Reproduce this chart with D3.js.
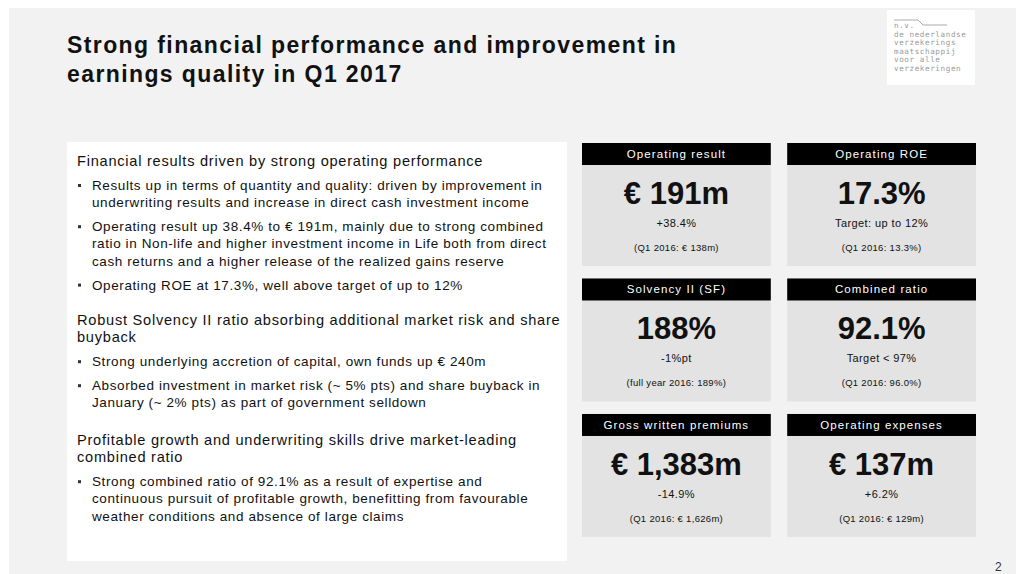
<!DOCTYPE html>
<html>
<head>
<meta charset="utf-8">
<script src="https://cdn.jsdelivr.net/npm/d3@7"></script>
<style>
  html, body { margin: 0; padding: 0; background: #fff; }
  svg text { font-family: "Liberation Sans", Arial, sans-serif; }
</style>
</head>
<body>
<svg id="slide" width="1016" height="574"></svg>
<script>
const TITLE_LINES = ['Strong financial performance and improvement in', 'earnings quality in Q1 2017']

const KPI_TITLES = ['Operating result', 'Operating ROE', 'Solvency II (SF)', 'Combined ratio', 'Gross written premiums', 'Operating expenses']
const KPI_VALUES = ['€ 191m', '17.3%', '188%', '92.1%', '€ 1,383m', '€ 137m']
const KPI_CHANGES = ['+38.4%', 'Target: up to 12%', '-1%pt', 'Target < 97%', '-14.9%', '+6.2%']
const KPI_PRIOR = ['(Q1 2016: € 138m)', '(Q1 2016: 13.3%)', '(full year 2016: 189%)', '(Q1 2016: 96.0%)', '(Q1 2016: € 1,626m)', '(Q1 2016: € 129m)']

const SECTION_HEADS = [
  ['Financial results driven by strong operating performance'],
  ['Robust Solvency II ratio absorbing additional market risk and share', 'buyback'],
  ['Profitable growth and underwriting skills drive market-leading', 'combined ratio']
]
const SECTION_BULLETS = [
  [
    ['Results up in terms of quantity and quality: driven by improvement in', 'underwriting results and increase in direct cash investment income'],
    ['Operating result up 38.4% to € 191m, mainly due to strong combined', 'ratio in Non-life and higher investment income in Life both from direct', 'cash returns and a higher release of the realized gains reserve'],
    ['Operating ROE at 17.3%, well above target of up to 12%']
  ],
  [
    ['Strong underlying accretion of capital, own funds up € 240m'],
    ['Absorbed investment in market risk (~ 5% pts) and share buyback in', 'January (~ 2% pts) as part of government selldown']
  ],
  [
    ['Strong combined ratio of 92.1% as a result of expertise and', 'continuous pursuit of profitable growth, benefitting from favourable', 'weather conditions and absence of large claims']
  ]
]
const LOGO_LINES = ['n.v.', 'de nederlandse', 'verzekerings', 'maatschappij', 'voor alle', 'verzekeringen']

function whenDocumentLoaded(action) {
  if (document.readyState === "loading") {
    document.addEventListener("DOMContentLoaded", action);
  } else {
    action();
  }
}

function drawSlide() {
  const svg = d3.select('#slide');

  // slide background
  svg.append('rect').attr('x', 9).attr('y', 8).attr('width', 1007).attr('height', 566).attr('fill', '#f2f2f2');

  // title
  svg.append('g').selectAll('text')
     .data(TITLE_LINES)
     .join('text')
     .attr('x', 67)
     .attr('y', (d, i) => 53 + i * 29)
     .attr('font-size', 23)
     .attr('font-weight', 'bold')
     .attr('letter-spacing', 1.4)
     .attr('fill', '#111')
     .text(d => d);

  // logo
  const logo = svg.append('g');
  logo.append('rect').attr('x', 887).attr('y', 10).attr('width', 88).attr('height', 75).attr('fill', '#fff');
  logo.append('path')
      .attr('d', 'M894,20 H918 L923,25 H947')
      .attr('fill', 'none').attr('stroke', '#aaa').attr('stroke-width', 1);
  logo.selectAll('text')
      .data(LOGO_LINES)
      .join('text')
      .attr('x', 894)
      .attr('y', (d, i) => 28 + i * 8.6)
      .attr('font-size', 7.6)
      .attr('letter-spacing', 0.6)
      .attr('fill', '#999')
      .style('font-family', '"DejaVu Sans Mono", monospace')
      .text(d => d);

  // left text panel
  svg.append('rect').attr('x', 67).attr('y', 142).attr('width', 500).attr('height', 419).attr('fill', '#fff');
  const sectionTop = [166, 325, 445];
  const lineH = 17.2, bulletGap = 24;
  const textG = svg.append('g').attr('fill', '#111');
  SECTION_HEADS.forEach((head, s) => {
    let y = sectionTop[s];
    head.forEach((line, i) => {
      textG.append('text').attr('x', 77).attr('y', y)
           .attr('font-size', 14.6).attr('letter-spacing', 0.75).text(line);
      if (i < head.length - 1) y += lineH;
    });
    SECTION_BULLETS[s].forEach(bullet => {
      y += bulletGap;
      textG.append('rect').attr('x', 78).attr('y', y - 6).attr('width', 3).attr('height', 3).attr('fill', '#333');
      bullet.forEach((line, i) => {
        textG.append('text').attr('x', 92).attr('y', y)
             .attr('font-size', 13.5).attr('letter-spacing', 0.6).text(line);
        if (i < bullet.length - 1) y += lineH;
      });
    });
  });

  // KPI tiles
  const col = d3.scaleBand().domain([0, 1]).range([582, 976]).paddingInner(0.08);
  const row = d3.scaleBand().domain([0, 1, 2]).range([143, 537]).paddingInner(0.092);
  const headH = 22;

  const tiles = svg.append('g').selectAll('g')
     .data(KPI_TITLES.map((t, i) => ({ title: t, value: KPI_VALUES[i], change: KPI_CHANGES[i], prior: KPI_PRIOR[i], c: i % 2, r: Math.floor(i / 2) })))
     .join('g')
     .attr('transform', d => `translate(${col(d.c)}, ${row(d.r)})`);

  tiles.append('rect')
       .attr('width', col.bandwidth()).attr('height', row.bandwidth())
       .attr('fill', '#e2e3e2');
  tiles.append('rect')
       .attr('width', col.bandwidth()).attr('height', headH)
       .attr('fill', '#000');

  const cx = col.bandwidth() / 2;
  tiles.append('text')
       .attr('x', cx).attr('y', 15)
       .attr('text-anchor', 'middle').attr('font-size', 11.5).attr('letter-spacing', 1.1).attr('fill', '#fff')
       .text(d => d.title);
  tiles.append('text')
       .attr('x', cx).attr('y', 61)
       .attr('text-anchor', 'middle').attr('font-size', 31).attr('font-weight', 'bold').attr('fill', '#111')
       .text(d => d.value);
  tiles.append('text')
       .attr('x', cx).attr('y', 84)
       .attr('text-anchor', 'middle').attr('font-size', 11).attr('letter-spacing', 0.4).attr('fill', '#111')
       .text(d => d.change);
  tiles.append('text')
       .attr('x', cx).attr('y', 108)
       .attr('text-anchor', 'middle').attr('font-size', 9.5).attr('letter-spacing', 0.3).attr('fill', '#111')
       .text(d => d.prior);

  // page number
  svg.append('text').attr('x', 995).attr('y', 571).attr('font-size', 12).attr('fill', '#333').text('2');
}

whenDocumentLoaded(drawSlide);
</script>
</body>
</html>
